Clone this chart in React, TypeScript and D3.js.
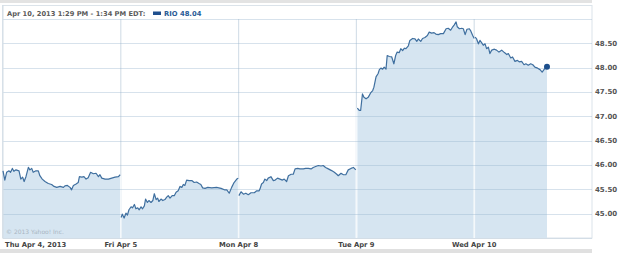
import React from "react";
import * as d3 from "d3";

const DAY_MIN = 390;
const dayLabels = ["Thu Apr 4, 2013", "Fri Apr 5", "Mon Apr 8", "Tue Apr 9", "Wed Apr 10"];
const yTicks = [45, 45.5, 46, 46.5, 47, 47.5, 48, 48.5];
const headerText = "Apr 10, 2013 1:29 PM - 1:34 PM EDT:";
const legendText = "RIO 48.04";
const copyright = "© 2013 Yahoo! Inc.";

// [minutes since open, price]
const thu: [number, number][] = [[0,45.88],[6,45.69],[12,45.85],[20,45.88],[25,45.85],[31,45.93],[36,45.87],[43,45.90],[53,45.88],[59,45.71],[65,45.75],[70,45.66],[76,45.76],[84,45.95],[89,45.90],[95,45.93],[100,45.85],[109,45.88],[117,45.88],[122,45.78],[130,45.71],[139,45.66],[150,45.62],[161,45.60],[169,45.56],[178,45.54],[189,45.56],[200,45.54],[205,45.57],[213,45.58],[222,45.54],[227,45.49],[233,45.58],[242,45.61],[249,45.64],[253,45.76],[261,45.75],[268,45.76],[275,45.71],[282,45.74],[290,45.85],[299,45.82],[308,45.83],[316,45.76],[321,45.80],[327,45.73],[338,45.71],[349,45.71],[360,45.73],[371,45.75],[382,45.76],[388,45.80]];
const fri: [number, number][] = [[1,44.92],[5,44.99],[11,44.91],[17,45.01],[22,44.97],[27,45.08],[34,45.14],[39,45.12],[45,45.19],[50,45.10],[56,45.12],[61,45.08],[67,45.14],[72,45.10],[78,45.16],[82,45.30],[88,45.23],[93,45.27],[100,45.23],[106,45.27],[111,45.41],[117,45.29],[122,45.32],[126,45.25],[133,45.30],[139,45.27],[146,45.29],[152,45.34],[157,45.37],[163,45.32],[170,45.37],[177,45.37],[183,45.44],[190,45.47],[196,45.56],[202,45.54],[207,45.60],[212,45.58],[218,45.69],[226,45.68],[235,45.68],[243,45.64],[251,45.65],[259,45.62],[265,45.60],[271,45.53],[279,45.52],[288,45.54],[301,45.53],[317,45.54],[332,45.52],[343,45.49],[351,45.49],[359,45.42],[367,45.54],[375,45.64],[384,45.71],[389,45.73]];
const mon: [number, number][] = [[1,45.37],[8,45.45],[16,45.40],[24,45.42],[32,45.39],[41,45.43],[52,45.43],[60,45.47],[68,45.47],[71,45.51],[76,45.61],[82,45.64],[87,45.71],[93,45.68],[98,45.73],[107,45.76],[115,45.68],[121,45.69],[129,45.73],[137,45.71],[145,45.69],[151,45.71],[159,45.66],[165,45.78],[174,45.81],[181,45.81],[187,45.92],[196,45.93],[203,45.92],[214,45.92],[222,45.93],[231,45.93],[240,45.92],[247,45.95],[255,45.97],[264,45.99],[273,45.98],[280,45.99],[288,45.95],[297,45.92],[308,45.885],[317,45.85],[325,45.81],[330,45.78],[339,45.83],[347,45.80],[355,45.80],[363,45.90],[372,45.93],[380,45.95],[388,45.90]];
const tue: [number, number][] = [[3,47.17],[10,47.12],[14,47.12],[20,47.46],[25,47.39],[32,47.36],[39,47.39],[47,47.48],[54,47.53],[58,47.60],[65,47.81],[72,47.88],[76,47.96],[81,47.99],[87,47.97],[92,48.01],[98,47.97],[102,48.25],[109,48.23],[117,48.22],[124,48.08],[130,48.25],[135,48.32],[142,48.31],[147,48.39],[153,48.35],[159,48.40],[164,48.39],[172,48.45],[177,48.56],[186,48.60],[194,48.59],[200,48.54],[205,48.59],[213,48.54],[219,48.60],[227,48.62],[235,48.66],[241,48.73],[249,48.71],[257,48.72],[263,48.69],[271,48.68],[279,48.70],[288,48.70],[297,48.80],[304,48.81],[312,48.77],[319,48.84],[324,48.88],[330,48.94],[334,48.84],[341,48.80],[349,48.81],[354,48.80],[360,48.68],[366,48.79],[374,48.80],[379,48.75],[385,48.66],[390,48.60]];
const wed: [number, number][] = [[3,48.63],[8,48.59],[14,48.49],[19,48.56],[25,48.51],[30,48.46],[36,48.49],[41,48.39],[47,48.42],[52,48.29],[58,48.36],[67,48.38],[74,48.36],[82,48.32],[91,48.36],[100,48.31],[108,48.27],[113,48.29],[121,48.20],[127,48.22],[135,48.13],[143,48.15],[149,48.12],[157,48.13],[165,48.06],[171,48.08],[179,48.05],[187,48.08],[194,48.06],[201,48.01],[210,47.99],[218,47.96],[225,47.91],[231,47.96],[238,48.01],[241,48.02]];

const days = [thu, fri, mon, tue, wed];

const W = 625, H = 253;
const L = 3, R = 592, T = 19, B = 238;
const FONT = "'DejaVu Sans', Verdana, sans-serif";

export default function App() {
  const x = d3.scaleLinear().domain([0, DAY_MIN * days.length]).range([L, R]);
  const y = d3.scaleLinear().domain([44.5, 49]).range([B, T]);
  const series = days.map((d, i) => d.map(([m, v]) => ({ t: i * DAY_MIN + m, v })));
  const line = d3.line<{ t: number; v: number }>().x(d => x(d.t)).y(d => y(d.v));
  const area = d3.area<{ t: number; v: number }>().x(d => x(d.t)).y0(B).y1(d => y(d.v));
  const gridTicks = d3.range(45, 49.01, 0.5);
  const boundaries = d3.range(1, days.length).map(i => {
    const prev = series[i - 1][series[i - 1].length - 1].v;
    const next = series[i][0].v;
    return { t: i * DAY_MIN, v: Math.max(prev, next) };
  });
  const last = series[series.length - 1][series[series.length - 1].length - 1];

  return (
    <svg width={W} height={H} style={{ position: "absolute", left: 0, top: 0, background: "#fff" }}>
      <rect x={0} y={0} width={R} height={3} fill="#e3e3e3" />
      <rect x={0} y={249} width={R} height={4} fill="#e0e0e0" />
      <rect x={L - 0.5} y={5.5} width={R - L + 0.5} height={B - 5.5} fill="#fff" stroke="#dbe3ea" />
      {d3.range(1, days.length).map(i => (
        <line key={"v" + i} x1={x(i * DAY_MIN)} x2={x(i * DAY_MIN)} y1={T} y2={B} stroke="#d6e0e9" strokeWidth={1.2} />
      ))}
      {series.map((s, i) => (
        <path key={"a" + i} d={area(s) || ""} fill="#d6e5f1" />
      ))}
      {boundaries.map((b, i) => (
        <line key={"w" + i} x1={x(b.t)} x2={x(b.t)} y1={y(b.v)} y2={B} stroke="#f4f8fb" strokeWidth={1.6} />
      ))}
      {gridTicks.map(v => (
        <line key={"h" + v} x1={L} x2={R} y1={Math.round(y(v)) + 0.5} y2={Math.round(y(v)) + 0.5} stroke="rgba(150,178,205,0.38)" strokeWidth={1.2} />
      ))}
      <line x1={L} x2={L} y1={5} y2={B} stroke="#d3dde6" />
      <line x1={L} x2={R} y1={B + 0.5} y2={B + 0.5} stroke="#d3dde6" />
      {series.map((s, i) => (
        <path key={"l" + i} d={line(s) || ""} fill="none" stroke="#3f6f9f" strokeWidth={1.2} strokeLinejoin="round" />
      ))}
      <circle cx={x(last.t)} cy={y(last.v)} r={3} fill="#1d4f8c" />
      <text x={7} y={16} fontFamily={FONT} fontWeight="bold" fontSize={6.7} fill="#5a5a5a">{headerText}</text>
      <rect x={153} y={11.5} width={8} height={3.5} fill="#1f4f8e" />
      <text x={164} y={16} fontFamily={FONT} fontWeight="bold" fontSize={6.8} fill="#2a5b96">{legendText}</text>
      {yTicks.map(v => (
        <text key={"yt" + v} x={595} y={y(v)} dy="0.35em" fontFamily={FONT} fontWeight="bold" fontSize={7} fill="#555">{v.toFixed(2)}</text>
      ))}
      {dayLabels.map((lab, i) => (
        <text key={"xt" + i} x={i === 0 ? 5 : x(i * DAY_MIN)} y={247} textAnchor={i === 0 ? "start" : "middle"} fontFamily={FONT} fontWeight="bold" fontSize={6.8} fill="#444">{lab}</text>
      ))}
      <text x={6} y={234} fontFamily={FONT} fontSize={6} fill="#a9b6c3">{copyright}</text>
    </svg>
  );
}
